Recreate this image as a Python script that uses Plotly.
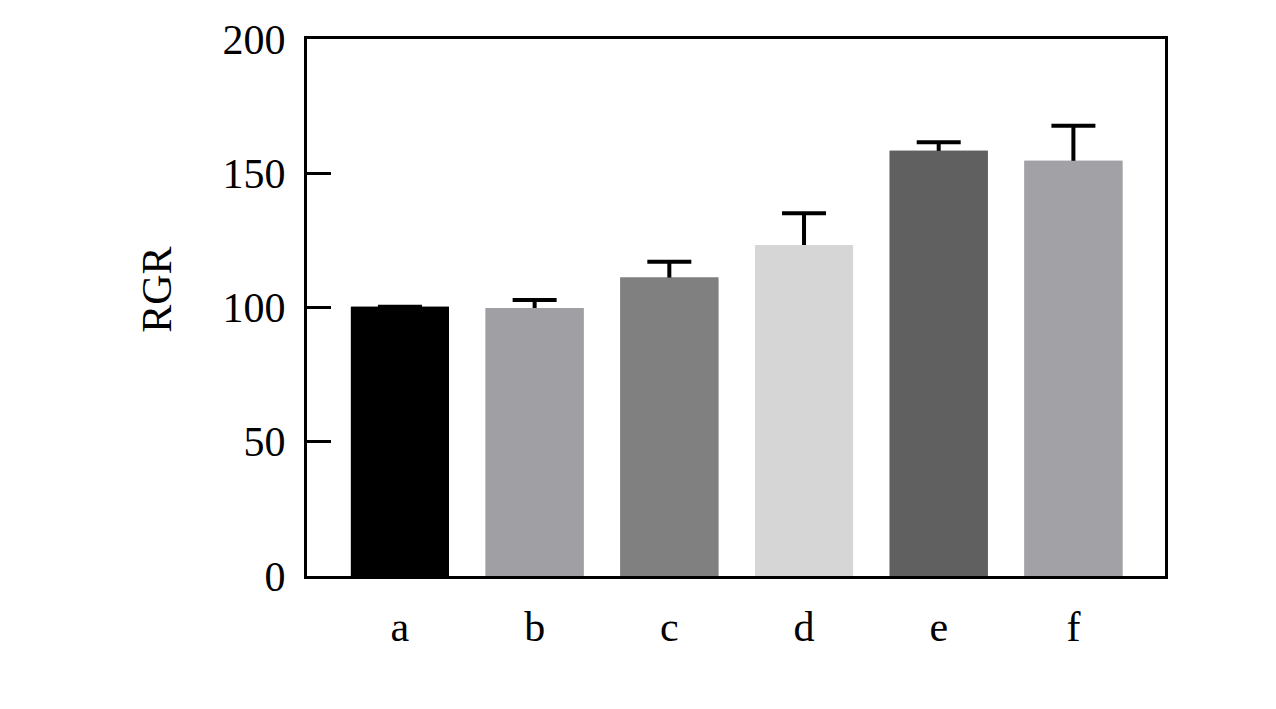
import plotly.graph_objects as go

categories = ["a", "b", "c", "d", "e", "f"]
values = [100.3, 99.8, 111.2, 123.3, 158.4, 154.7]
errors = [0, 3.0, 5.8, 11.8, 3.1, 13.0]
colors = ["#000000", "#a0a0a4", "#808080", "#d6d6d6", "#606060", "#a2a2a6"]
y_ticks = [0, 50, 100, 150, 200]

fig = go.Figure()
# error bars (lower half hidden by the bar trace drawn on top)
fig.add_trace(go.Bar(
    x=categories, y=values, width=0.728,
    marker=dict(color=colors, line=dict(width=0)),
    error_y=dict(type="data", array=errors, color="#000000", thickness=4, width=22),
    hoverinfo="skip",
))
fig.add_trace(go.Bar(
    x=categories, y=values, width=0.728,
    marker=dict(color=colors, line=dict(width=0)),
))

font = dict(family="Liberation Serif, Times New Roman, serif", size=42, color="#000000")
fig.update_layout(
    width=1276, height=709,
    margin=dict(l=307, r=111, t=39, b=133),
    plot_bgcolor="#ffffff", paper_bgcolor="#ffffff",
    font=font, showlegend=False, barmode="overlay",
)
fig.add_annotation(
    text="RGR", textangle=-90, showarrow=False, font=font,
    xref="paper", yref="paper", x=0, y=0.533,
    xanchor="center", yanchor="middle", xshift=-150,
)
fig.update_xaxes(
    range=[-0.69, 5.68], showgrid=False, zeroline=False,
    showline=True, linecolor="#000000", linewidth=3, mirror=True,
    ticks="", tickfont=font, ticklabelstandoff=12,
)
fig.update_yaxes(
    range=[0, 200], tickvals=y_ticks, showgrid=False, zeroline=False,
    showline=True, linecolor="#000000", linewidth=3, mirror=True,
    ticks="inside", ticklen=24, tickwidth=3, tickcolor="#000000",
    tickfont=font, ticklabelstandoff=10,
)
fig.write_html("out.html", config={"displayModeBar": False},
               post_script="document.body.style.margin='0';")
